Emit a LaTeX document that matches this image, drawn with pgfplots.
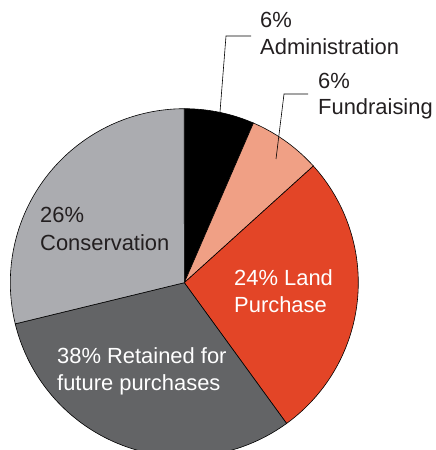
\documentclass[border=0pt]{standalone}
\usepackage{pgfplots}
\pgfplotsset{compat=1.18}
\usepackage{fontspec}
\setmainfont{Liberation Sans}
\definecolor{cAdmin}{HTML}{000000}
\definecolor{cFund}{HTML}{F0A085}
\definecolor{cLand}{HTML}{E34527}
\definecolor{cRet}{HTML}{636466}
\definecolor{cCons}{HTML}{ABACB0}
\definecolor{cText}{HTML}{231F20}
% shares of the circle as drawn (percent), clockwise from 12 o'clock
\def\sA{6.5}  % Administration
\def\sB{6.8}  % Fundraising
\def\sC{26.7} % Land Purchase
\def\sD{31.2} % Retained
\def\sE{28.8} % Conservation
\def\cx{184.3}
\def\cy{282.7}
\def\rr{174}
\begin{document}
\begin{tikzpicture}
\pgfmathsetmacro{\aA}{0}
\pgfmathsetmacro{\aB}{3.6*\sA}
\pgfmathsetmacro{\aC}{3.6*(\sA+\sB)}
\pgfmathsetmacro{\aD}{3.6*(\sA+\sB+\sC)}
\pgfmathsetmacro{\aE}{3.6*(\sA+\sB+\sC+\sD)}
\pgfmathsetmacro{\aF}{3.6*(\sA+\sB+\sC+\sD+\sE)}
\begin{axis}[name=ax, scale only axis, width=435bp, height=450bp,
  xmin=0, xmax=435, ymin=0, ymax=450, y dir=reverse, hide axis, clip=true]
\addplot[fill=cAdmin, draw=black, line width=0.6pt, domain=\aA:\aB, samples=30, variable=\t]
  ({\cx+\rr*sin(\t)},{\cy-\rr*cos(\t)}) -- (\cx,\cy) -- cycle;
\addplot[fill=cFund, draw=black, line width=0.6pt, domain=\aB:\aC, samples=30, variable=\t]
  ({\cx+\rr*sin(\t)},{\cy-\rr*cos(\t)}) -- (\cx,\cy) -- cycle;
\addplot[fill=cLand, draw=black, line width=0.6pt, domain=\aC:\aD, samples=80, variable=\t]
  ({\cx+\rr*sin(\t)},{\cy-\rr*cos(\t)}) -- (\cx,\cy) -- cycle;
\addplot[fill=cRet, draw=black, line width=0.6pt, domain=\aD:\aE, samples=80, variable=\t]
  ({\cx+\rr*sin(\t)},{\cy-\rr*cos(\t)}) -- (\cx,\cy) -- cycle;
\addplot[fill=cCons, draw=black, line width=0.6pt, domain=\aE:\aF, samples=80, variable=\t]
  ({\cx+\rr*sin(\t)},{\cy-\rr*cos(\t)}) -- (\cx,\cy) -- cycle;
% leader lines
\draw[line width=0.6pt] (220,112) -- (226,36) -- (251,36);
\draw[line width=0.6pt] (276,159) -- (284,94) -- (308,94);
% labels
\def\lbl{\fontsize{22}{27}\selectfont}
\node[anchor=base west, inner sep=0pt, font=\lbl, text=cText] at (260,28) {6\%};
\node[anchor=base west, inner sep=0pt, font=\lbl, text=cText] at (260,55) {Administration};
\node[anchor=base west, inner sep=0pt, font=\lbl, text=cText] at (318,89) {6\%};
\node[anchor=base west, inner sep=0pt, font=\lbl, text=cText] at (318,115) {Fundraising};
\node[anchor=base west, inner sep=0pt, font=\lbl, text=cText] at (40,223) {26\%};
\node[anchor=base west, inner sep=0pt, font=\lbl, text=cText] at (40,250) {Conservation};
\node[anchor=base west, inner sep=0pt, font=\lbl, text=white] at (234,285) {24\% Land};
\node[anchor=base west, inner sep=0pt, font=\lbl, text=white] at (234,312) {Purchase};
\node[anchor=base west, inner sep=0pt, font=\lbl, text=white] at (57,363) {38\% Retained for};
\node[anchor=base west, inner sep=0pt, font=\lbl, text=white] at (57,390) {future purchases};
\end{axis}
\pgfresetboundingbox
\path[use as bounding box] (ax.south west) rectangle (ax.north east);
\end{tikzpicture}
\end{document}
